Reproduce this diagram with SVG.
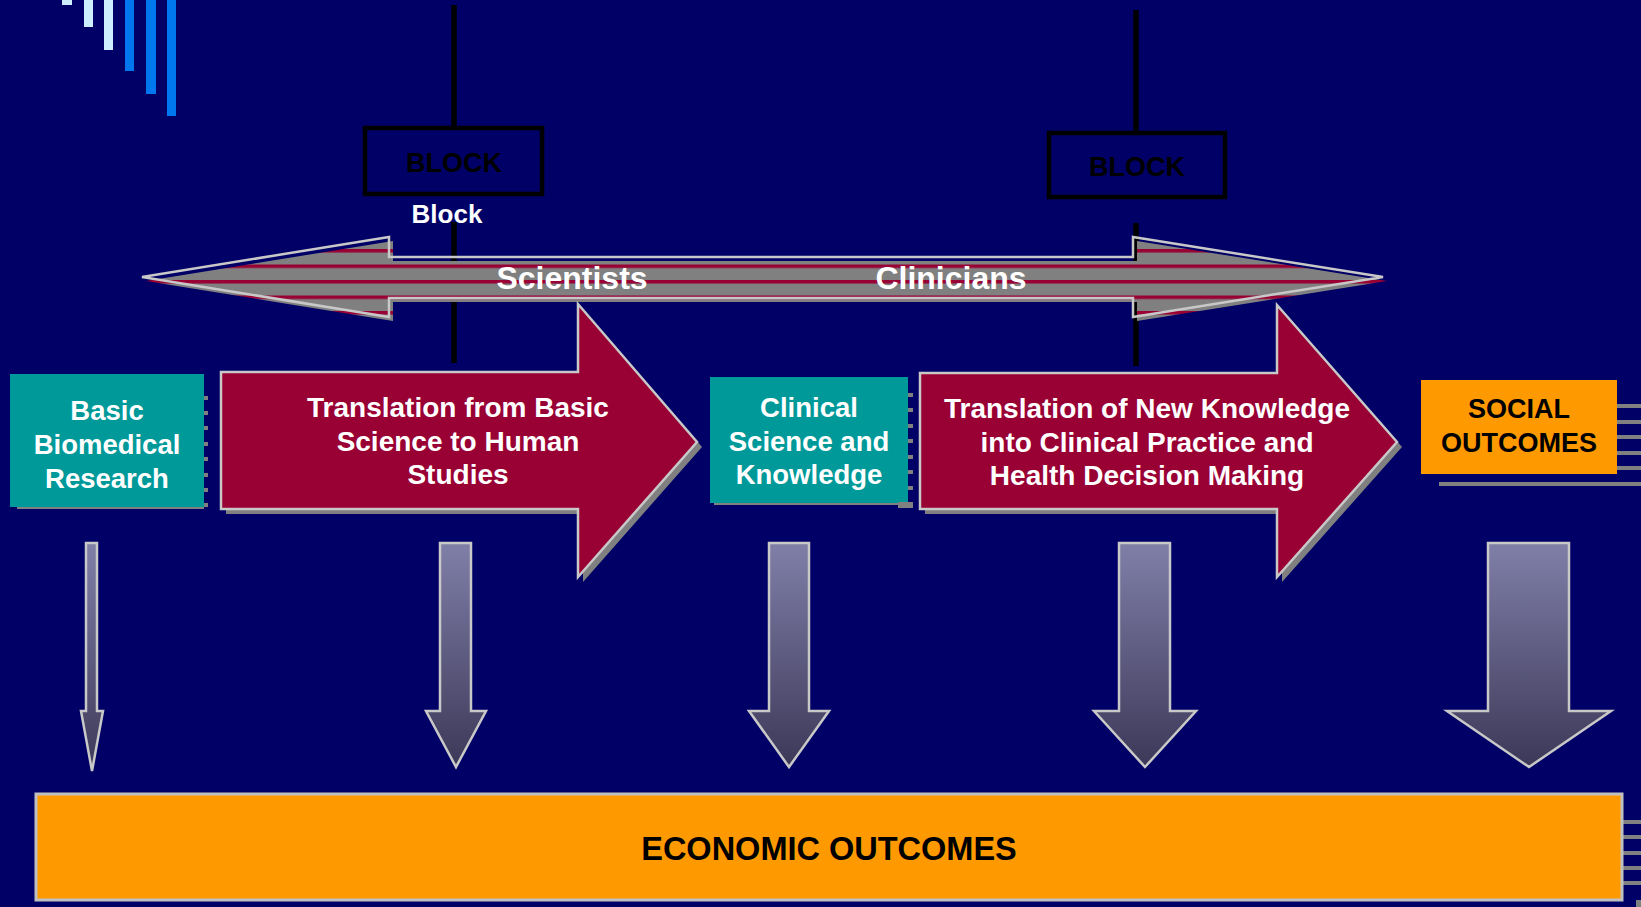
<svg xmlns="http://www.w3.org/2000/svg" width="1641" height="907" viewBox="0 0 1641 907">
<style>
.t{font-family:"Liberation Sans",Arial,sans-serif;font-weight:bold;text-anchor:middle}
.w{fill:#ffffff}
.k{fill:#000000}
.ol{fill:none;stroke:#c8c8c8;stroke-width:2.5;stroke-linejoin:miter}
.dn{fill:url(#dg);stroke:#c8c8c8;stroke-width:2.5}
.sh{fill:#808080}
.vl{stroke:#000;stroke-width:5.5}
</style>
<defs>
<linearGradient id="dg" x1="0" y1="0" x2="0" y2="1">
<stop offset="0" stop-color="#807fa8"/>
<stop offset="1" stop-color="#3c3858"/>
</linearGradient>
<pattern id="stripes" patternUnits="userSpaceOnUse" x="0" y="249" width="20" height="15.5">
<rect x="0" y="0" width="20" height="15.5" fill="#808080"/>
<rect x="0" y="0" width="20" height="3.5" fill="#990033"/>
</pattern>
</defs>
<rect width="1641" height="907" fill="#000066"/>
<g id="deco">
<rect x="62" y="0" width="10" height="5" fill="#cceeff"/>
<rect x="84" y="0" width="9" height="27" fill="#cceeff"/>
<rect x="104" y="0" width="9" height="50" fill="#cceeff"/>
<rect x="125" y="0" width="9" height="71" fill="#0077ee"/>
<rect x="146" y="0" width="10" height="94" fill="#0077ee"/>
<rect x="167" y="0" width="9" height="116" fill="#0077ee"/>
</g>
<g id="connectors">
<line class="vl" x1="454" y1="5" x2="454" y2="128"/>
<line class="vl" x1="454" y1="222" x2="454" y2="363"/>
<line class="vl" x1="1136" y1="10" x2="1136" y2="133"/>
<line class="vl" x1="1136" y1="223" x2="1136" y2="366"/>
</g>
<g id="block1">
<rect x="365" y="128" width="177" height="66" fill="none" stroke="#000" stroke-width="4.5"/>
<text class="t k" x="454" y="172" font-size="27">BLOCK</text>
<text class="t w" x="447" y="223" font-size="26">Block</text>
</g>
<g id="block2">
<rect x="1049" y="133" width="176" height="64" fill="none" stroke="#000" stroke-width="4.5"/>
<text class="t k" x="1137" y="176" font-size="27">BLOCK</text>
</g>
<g id="scientists-clinicians">
<polygon points="146,281 393,241 393,261 1137,261 1137,241 1387,281 1137,321 1137,302 393,302 393,321" fill="url(#stripes)"/>
<polygon class="ol" points="142,277 389,237 389,257 1133,257 1133,237 1383,277 1133,317 1133,298 389,298 389,317"/>
<text class="t w" x="572" y="289" font-size="32">Scientists</text>
<text class="t w" x="951" y="289" font-size="32">Clinicians</text>
</g>
<g id="basic-research">
<rect x="17" y="374" width="191" height="135" class="sh"/>
<rect x="10" y="374" width="194" height="133" fill="#009999"/>
<rect x="204" y="374" width="5" height="135" fill="#000066"/>
<g class="sh">
<rect x="204" y="396" width="4" height="4"/><rect x="204" y="411" width="4" height="4"/><rect x="204" y="426" width="4" height="4"/><rect x="204" y="442" width="4" height="4"/><rect x="204" y="457" width="4" height="4"/><rect x="204" y="473" width="4" height="4"/><rect x="204" y="488" width="4" height="4"/><rect x="204" y="503" width="4" height="4"/>
</g>
<text class="t w" x="107" y="420" font-size="27.5">Basic</text>
<text class="t w" x="107" y="454" font-size="27.5">Biomedical</text>
<text class="t w" x="107" y="488" font-size="27.5">Research</text>
</g>
<g id="translation1">
<path class="sh" d="M226,377 H583 V309 L702,447 L583,582 V514 H226 Z"/>
<path d="M221,372 H578 V304 L697,442 L578,577 V509 H221 Z" fill="#990033" stroke="#c8c8c8" stroke-width="2.5"/>
<text class="t w" x="458" y="417" font-size="28">Translation from Basic</text>
<text class="t w" x="458" y="451" font-size="28">Science to Human</text>
<text class="t w" x="458" y="484" font-size="28">Studies</text>
</g>
<g id="clinical-science">
<rect x="714" y="377" width="199" height="128" class="sh"/>
<rect x="710" y="377" width="198" height="126" fill="#009999"/>
<rect x="908" y="377" width="6" height="125" fill="#000066"/>
<g class="sh">
<rect x="908" y="393" width="5" height="4"/><rect x="908" y="408" width="5" height="4"/><rect x="908" y="424" width="5" height="4"/><rect x="908" y="439" width="5" height="4"/><rect x="908" y="455" width="5" height="4"/><rect x="908" y="470" width="5" height="4"/><rect x="908" y="486" width="5" height="4"/><rect x="898" y="502" width="15" height="6"/>
</g>
<text class="t w" x="809" y="417" font-size="27.5">Clinical</text>
<text class="t w" x="809" y="451" font-size="27.5">Science and</text>
<text class="t w" x="809" y="484" font-size="27.5">Knowledge</text>
</g>
<g id="translation2">
<path class="sh" d="M925,378 H1282 V310 L1402,447 L1282,582 V514 H925 Z"/>
<path d="M920,373 H1277 V305 L1397,442 L1277,577 V509 H920 Z" fill="#990033" stroke="#c8c8c8" stroke-width="2.5"/>
<text class="t w" x="1147" y="418" font-size="28">Translation of New Knowledge</text>
<text class="t w" x="1147" y="452" font-size="28">into Clinical Practice and</text>
<text class="t w" x="1147" y="485" font-size="28">Health Decision Making</text>
</g>
<g id="social-outcomes">
<g class="sh">
<rect x="1617" y="404" width="24" height="4"/><rect x="1617" y="420" width="24" height="4"/><rect x="1617" y="435" width="24" height="4"/><rect x="1617" y="451" width="24" height="4"/><rect x="1617" y="466" width="24" height="4"/><rect x="1439" y="482" width="202" height="4"/>
</g>
<rect x="1421" y="380" width="196" height="94" fill="#ff9900"/>
<text class="t k" x="1519" y="418" font-size="27">SOCIAL</text>
<text class="t k" x="1519" y="452" font-size="27">OUTCOMES</text>
</g>
<g id="down-arrows">
<path class="dn" d="M86,543 H97 V711 H103 L92,771 L81,711 H86 Z"/>
<path class="dn" d="M440,543 H471 V711 H486 L456,767 L426,711 H440 Z"/>
<path class="dn" d="M769,543 H809 V711 H829 L789,767 L749,711 H769 Z"/>
<path class="dn" d="M1119,543 H1170 V711 H1196 L1145,767 L1094,711 H1119 Z"/>
<path class="dn" d="M1488,543 H1569 V711 H1611 L1529,767 L1447,711 H1488 Z"/>
</g>
<g id="economic-outcomes">
<g class="sh">
<rect x="1622" y="820" width="19" height="4"/><rect x="1622" y="835" width="19" height="4"/><rect x="1622" y="851" width="19" height="4"/><rect x="1622" y="866" width="19" height="4"/><rect x="1622" y="881" width="19" height="4"/><rect x="1636" y="900" width="5" height="7"/>
</g>
<rect x="36" y="794" width="1586" height="106" fill="#ff9900" stroke="#c0c0c0" stroke-width="3"/>
<text class="t k" x="829" y="860" font-size="32.5">ECONOMIC OUTCOMES</text>
</g>
</svg>
